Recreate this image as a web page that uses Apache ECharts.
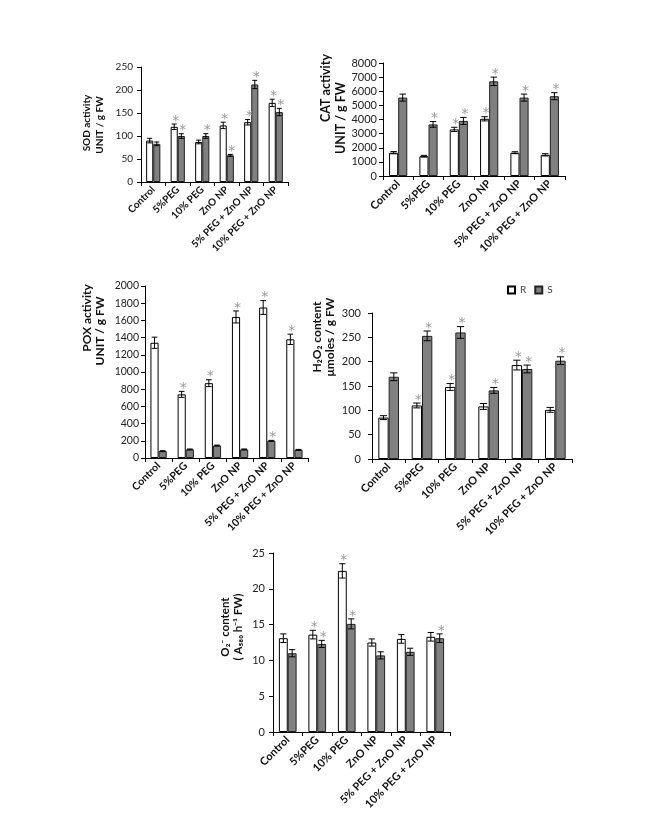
<!DOCTYPE html>
<html><head><meta charset="utf-8">
<script src="https://cdn.jsdelivr.net/npm/echarts@6/dist/echarts.min.js"></script>
<style>html,body{margin:0;padding:0;background:#fff}#c{width:645px;height:817px}</style>
</head><body><div id="c"></div>
<script>
const categories = ['Control','5%PEG','10% PEG','ZnO NP','5% PEG + ZnO NP','10% PEG + ZnO NP'];

const sodR = [90,120,87,123,130,172];
const sodRErr = [5,6,4,7,6,8];
const sodS = [83,100,100,58,212,152];
const sodSErr = [4,5,5,2,9,8];
const sodRStar = [0,1,0,1,1,1];
const sodSStar = [0,1,1,1,1,1];

const catR = [1650,1400,3300,4050,1650,1500];
const catRErr = [80,60,150,150,70,80];
const catS = [5550,3650,3900,6700,5550,5650];
const catSErr = [250,200,250,300,250,250];
const catRStar = [0,0,1,1,0,0];
const catSStar = [0,1,1,1,1,1];

const poxR = [1340,740,870,1640,1750,1380];
const poxRErr = [65,35,40,70,80,60];
const poxS = [80,100,145,100,200,95];
const poxSErr = [5,5,5,5,5,5];
const poxRStar = [0,1,1,1,1,1];
const poxSStar = [0,0,0,0,1,0];

const h2o2R = [85,110,148,108,193,101];
const h2o2RErr = [4,5,7,6,10,5];
const h2o2S = [169,253,260,141,185,202];
const h2o2SErr = [8,10,12,6,8,8];
const h2o2RStar = [0,1,1,0,1,0];
const h2o2SStar = [0,1,1,1,1,1];

const o2R = [13.1,13.6,22.5,12.5,13.0,13.3];
const o2RErr = [0.6,0.6,1.0,0.5,0.6,0.6];
const o2S = [11.0,12.3,15.1,10.7,11.2,13.1];
const o2SErr = [0.5,0.5,0.7,0.5,0.5,0.6];
const o2RStar = [0,1,1,0,0,0];
const o2SStar = [0,1,1,0,0,1];

const FONT = 'Lato';
const panels = [
  {grid:{left:141,top:67,width:147,height:115}, max:250, interval:50, R:sodR,Re:sodRErr,S:sodS,Se:sodSErr,Rs:sodRStar,Ss:sodSStar, fs:10, gap:0.42, m:8},
  {grid:{left:383,top:63,width:182,height:113}, max:8000, interval:1000, R:catR,Re:catRErr,S:catS,Se:catSErr,Rs:catRStar,Ss:catSStar, fs:11, gap:0.40, m:6},
  {grid:{left:145,top:286,width:163,height:172}, max:2000, interval:200, R:poxR,Re:poxRErr,S:poxS,Se:poxSErr,Rs:poxRStar,Ss:poxSStar, fs:10.5, gap:0.40, m:6},
  {grid:{left:372,top:313,width:200,height:146}, max:300, interval:50, R:h2o2R,Re:h2o2RErr,S:h2o2S,Se:h2o2SErr,Rs:h2o2RStar,Ss:h2o2SStar, fs:11, gap:0.38, m:11},
  {grid:{left:273,top:553,width:177,height:179}, max:25, interval:5, R:o2R,Re:o2RErr,S:o2S,Se:o2SErr,Rs:o2RStar,Ss:o2SStar, fs:11, gap:0.40, m:8}
];

function errRender(side, gap){
  return function(params, api){
    const x = api.value(0), v = api.value(1), e = api.value(2), star = api.value(3);
    const band = api.size([1,0])[0];
    const bw = band*(1-gap)/2;
    const cx = api.coord([x, v])[0] + side*bw/2;
    const yT = api.coord([x, v+e])[1];
    const yB = api.coord([x, Math.max(0,v-e)])[1];
    const c = bw*0.35;
    const st = {stroke:'#000', lineWidth:1};
    const ch = [
      {type:'line', shape:{x1:cx,y1:yT,x2:cx,y2:yB}, style:st},
      {type:'line', shape:{x1:cx-c,y1:yT,x2:cx+c,y2:yT}, style:st},
      {type:'line', shape:{x1:cx-c,y1:yB,x2:cx+c,y2:yB}, style:st}
    ];
    if (star) ch.push({type:'text', style:{text:'*', x:cx+1.5, y:yT-3, textAlign:'center', textVerticalAlign:'middle', fill:'#999', font:'14px "DejaVu Sans"'}});
    return {type:'group', children:ch};
  };
}

const grid=[], xAxis=[], yAxis=[], series=[];
panels.forEach((p,i)=>{
  grid.push(p.grid);
  xAxis.push({type:'category', gridIndex:i, data:categories,
    axisLine:{lineStyle:{color:'#000',width:1}},
    axisTick:{show:true, inside:false, length:4, alignWithLabel:false, lineStyle:{color:'#000'}},
    axisLabel:{rotate:45, interval:0, fontFamily:FONT, fontWeight:'bold', fontSize:p.fs, color:'#111', margin:6}});
  yAxis.push({type:'value', gridIndex:i, min:0, max:p.max, interval:p.interval,
    axisLine:{show:true, lineStyle:{color:'#000',width:1}},
    axisTick:{show:true, length:4, lineStyle:{color:'#000'}},
    splitLine:{show:false},
    axisLabel:{fontFamily:FONT, fontSize:p.fs, color:'#222', margin:p.m, formatter:v=>String(v)}});
  series.push({type:'bar', name:'R', xAxisIndex:i, yAxisIndex:i, data:p.R, barGap:'0%', barCategoryGap:(p.gap*100)+'%',
    itemStyle:{color:'#fff', borderColor:'#000', borderWidth:1}, silent:true, animation:false});
  series.push({type:'bar', name:'S', xAxisIndex:i, yAxisIndex:i, data:p.S, barGap:'0%', barCategoryGap:(p.gap*100)+'%',
    itemStyle:{color:'#808080', borderColor:'#222', borderWidth:1}, silent:true, animation:false});
  series.push({type:'custom', xAxisIndex:i, yAxisIndex:i, renderItem:errRender(-1,p.gap),
    data:p.R.map((v,k)=>[k,v,p.Re[k],p.Rs[k]]), z:5, silent:true, animation:false});
  series.push({type:'custom', xAxisIndex:i, yAxisIndex:i, renderItem:errRender(1,p.gap),
    data:p.S.map((v,k)=>[k,v,p.Se[k],p.Ss[k]]), z:5, silent:true, animation:false});
});

function vt(x,y,text,size){
  return {type:'text', x:x, y:y, rotation:Math.PI/2,
    style:{text:text, textAlign:'center', textVerticalAlign:'middle', fill:'#111', font:'bold '+size+'px '+FONT}};
}

const option = {
  animation:false,
  backgroundColor:'#fff',
  grid, xAxis, yAxis, series,
  legend:{data:[{name:'R',icon:'rect'},{name:'S',icon:'rect'}], left:502, top:280, itemWidth:7, itemHeight:7, itemGap:8,
    textStyle:{fontFamily:FONT, fontSize:10, color:'#444'}, selectedMode:false},
  graphic:[
    vt(87,123,'SOD activity',10),
    vt(100,125,'UNIT / g FW',10),
    vt(326,88,'CAT activity',12.5),
    vt(341,118,'UNIT / g FW',12.5),
    vt(87,318,'POX activity',12),
    vt(100,331,'UNIT / g FW',12),
    vt(317,337,'H\u2082O\u2082 content',12),
    vt(330,337,'\u03bcmoles / g FW',12),
    vt(225,627,'O\u2082\u207b content',11.5),
    vt(238,627,'( A\u2085\u2088\u2080 h\u207b\u00b9 FW)',11.5)
  ]
};
const chart = echarts.init(document.getElementById('c'), null, {renderer:'canvas'});
chart.setOption(option);
</script>
</body></html>
